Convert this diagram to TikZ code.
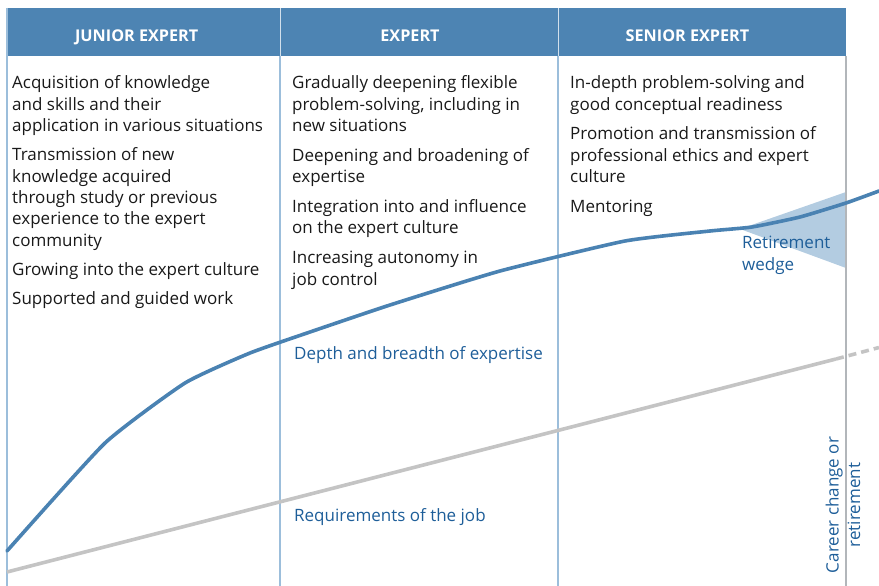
\documentclass[tikz,border=0pt]{standalone}
\usepackage{fontspec}
\setmainfont{Open Sans}
\begin{document}
\definecolor{headblue}{HTML}{4D84B3}
\definecolor{curveblue}{HTML}{4A82B2}
\definecolor{labelblue}{HTML}{1E5E99}
\definecolor{ruleblue}{HTML}{9CBEDB}
\definecolor{wedgeblue}{HTML}{B3CCE1}
\definecolor{reqgray}{HTML}{C4C4C4}
\definecolor{edgegray}{HTML}{B2B6BA}
\begin{tikzpicture}[x=1pt,y=-1pt,
  headtext/.style={text=white,font=\fontsize{16.2}{19}\selectfont\bfseries,inner sep=0pt,anchor=base},
  coltext/.style={text=black!90,font=\fontsize{17}{21.5}\selectfont,inner sep=0pt,anchor=base west},
  curvelabel/.style={text=labelblue,font=\fontsize{17}{21.5}\selectfont,inner sep=0pt},
  colrule/.style={ruleblue,line width=1.2pt},
  expertise/.style={curveblue,line width=3.6pt,line cap=round,line join=round},
  jobline/.style={reqgray,line width=3.6pt}]
\useasboundingbox (0,0) rectangle (879,586);

% header band
\fill[headblue] (7,8) rectangle (846,56);
\draw[white!75!headblue,line width=1pt] (280,8) -- (280,56) (558,8) -- (558,56);
\node[headtext] (h1) at (136.7,41.7) {JUNIOR EXPERT};
\node[headtext] (h2) at (410,41.7) {EXPERT};
\node[headtext] (h3) at (687.5,41.7) {SENIOR EXPERT};

% retirement wedge
\fill[wedgeblue] (740,229) -- (846,192) -- (846,268) -- cycle;

% column rules
\draw[colrule] (7,8) -- (7,586);
\draw[colrule] (280,56) -- (280,586);
\draw[colrule] (558,56) -- (558,586);
\draw[edgegray,line width=1.4pt] (846,56) -- (846,586);

% column texts
\node[coltext] (t1) at (12,88.5) {\parbox[t]{265pt}{\raggedright\setlength\parskip{7.5pt}%
Acquisition of knowledge\\ and skills and their\\ application in various situations\par
Transmission of new\\ knowledge acquired\\ through study or previous\\ experience to the expert\\ community\par
Growing into the expert culture\par
Supported and guided work}};
\node[coltext] (t2) at (292,88.5) {\parbox[t]{262pt}{\raggedright\setlength\parskip{8.2pt}%
Gradually deepening flexible\\ problem-solving, including in\\ new situations\par
Deepening and broadening of\\ expertise\par
Integration into and influence\\ on the expert culture\par
Increasing autonomy in\\ job control}};
\node[coltext] (t3) at (570,88.5) {\parbox[t]{270pt}{\raggedright\setlength\parskip{8.2pt}%
In-depth problem-solving and\\ good conceptual readiness\par
Promotion and transmission of\\ professional ethics and expert\\ culture\par
Mentoring}};

% requirements of the job
\draw[jobline] (7,572) -- (836,359);
\draw[jobline,dash pattern=on 8pt off 5pt] (836,359) -- (879,347.5);

% depth and breadth of expertise
\draw[expertise] plot[smooth,tension=0.3] coordinates {(7,551) (105,443) (185,383) (250,353) (310,332) (390,305) (500,271) (625,241) (710,231) (752,227) (800,217) (846,203) (879,191)};

% curve labels
\node[curvelabel,anchor=base west] (l1) at (294,359) {Depth and breadth of expertise};
\node[curvelabel,anchor=base west] (l2) at (294,521) {Requirements of the job};
\node[curvelabel,anchor=base west,align=left] (l3) at (742,270) {Retirement\\ wedge};
\node[curvelabel,rotate=90,align=center] (l4) at (843,505) {Career change or\\ retirement};
\end{tikzpicture}
\end{document}
